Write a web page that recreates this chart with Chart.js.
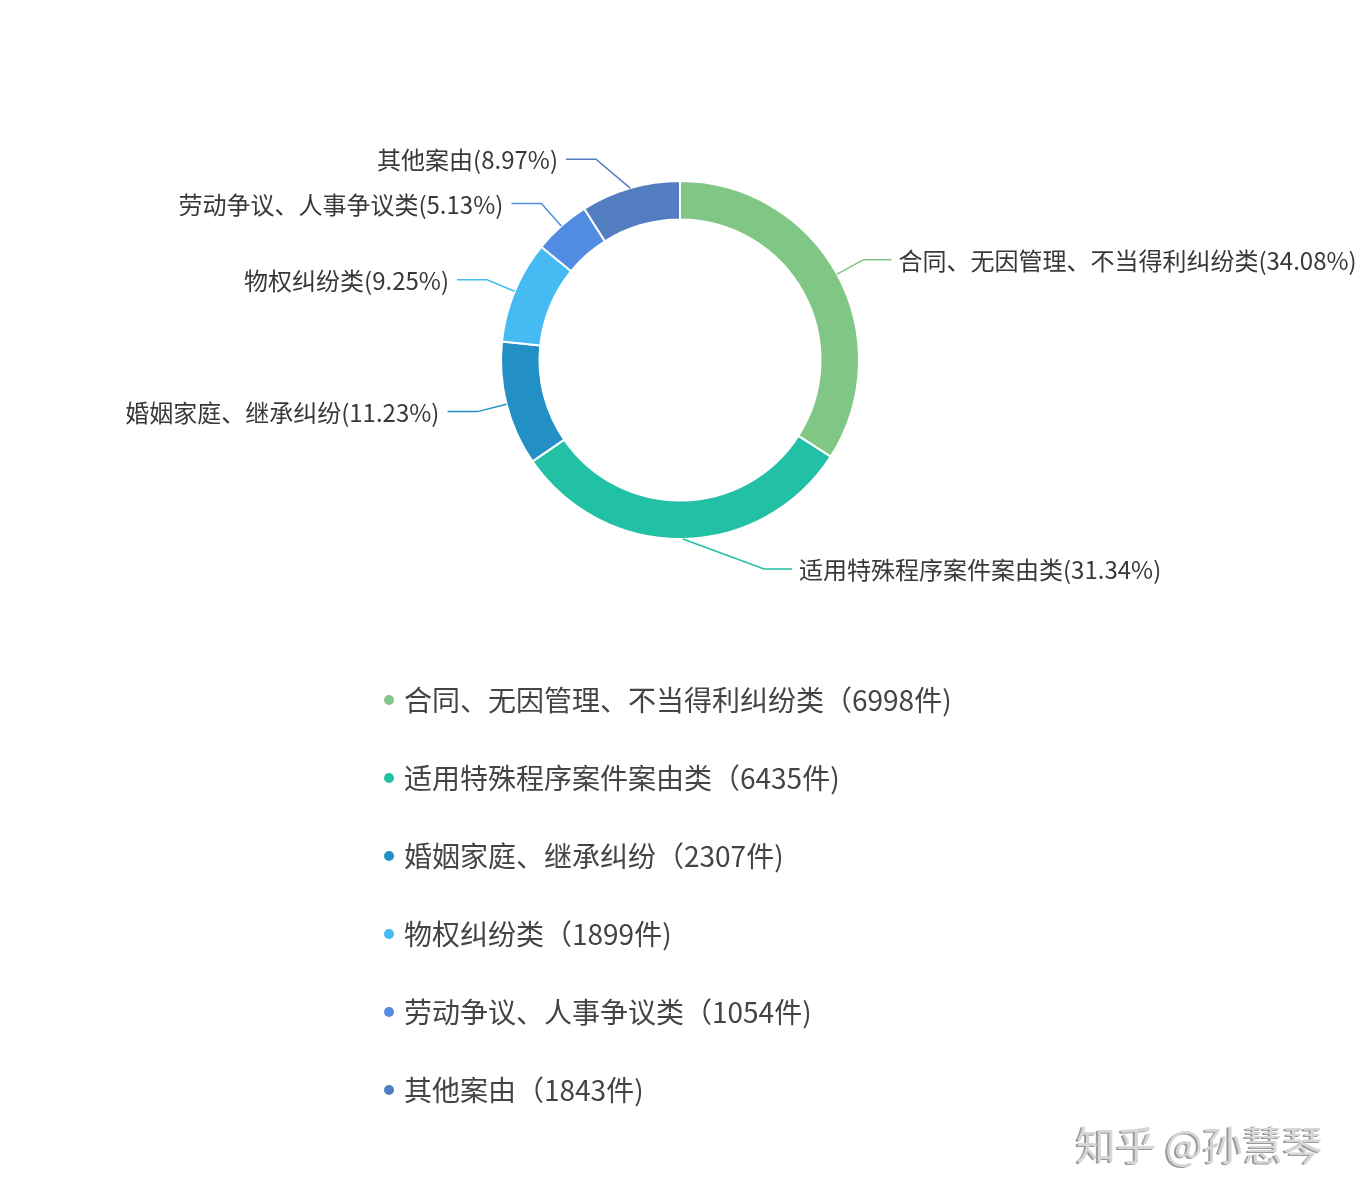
<!DOCTYPE html>
<html>
<head>
<meta charset="utf-8">
<script src="https://cdn.jsdelivr.net/npm/chart.js@4/dist/chart.umd.min.js"></script>
<style>
  html, body { margin: 0; padding: 0; background: #fff; }
  #wrap { width: 1360px; height: 1200px; position: relative; }
</style>
</head>
<body>
<div id="wrap"><canvas id="chart"></canvas></div>
<script>
const categories = [
  "合同、无因管理、不当得利纠纷类",
  "适用特殊程序案件案由类",
  "婚姻家庭、继承纠纷",
  "物权纠纷类",
  "劳动争议、人事争议类",
  "其他案由"
];
const caseCounts = [6998, 6435, 2307, 1899, 1054, 1843];
const sliceColors = ["#80c684", "#22c1a6", "#2390c5", "#45baf3", "#528be2", "#527dc1"];

const total = caseCounts.reduce((a, b) => a + b, 0);
const FONT = '"Noto Sans CJK SC", "Noto Sans", sans-serif';

// leader lines + percentage labels beside the ring
const sliceLabels = {
  id: "sliceLabels",
  afterDatasetsDraw(chart) {
    const ctx = chart.ctx;
    const meta = chart.getDatasetMeta(0);
    ctx.save();
    ctx.font = "24px " + FONT;
    ctx.textBaseline = "middle";
    meta.data.forEach((arc, i) => {
      const mid = (arc.startAngle + arc.endAngle) / 2;
      const r = arc.outerRadius;
      const cos = Math.cos(mid), sin = Math.sin(mid);
      const p0 = { x: arc.x + cos * r, y: arc.y + sin * r };
      const p1 = { x: arc.x + cos * (r + 30), y: arc.y + sin * (r + 30) };
      const right = cos >= 0;
      const minDx = 84;
      if (Math.abs(p1.x - arc.x) < minDx) {
        p1.x = arc.x + (right ? minDx : -minDx);
      }
      const p2 = { x: p1.x + (right ? 28 : -30), y: p1.y };
      ctx.strokeStyle = sliceColors[i];
      ctx.lineWidth = 1.5;
      ctx.beginPath();
      ctx.moveTo(p0.x, p0.y);
      ctx.lineTo(p1.x, p1.y);
      ctx.lineTo(p2.x, p2.y);
      ctx.stroke();

      const pct = (caseCounts[i] / total * 100).toFixed(2);
      ctx.fillStyle = "#383838";
      ctx.textAlign = right ? "left" : "right";
      ctx.fillText(categories[i] + "(" + pct + "%)", p2.x + (right ? 7 : -8), p2.y + 1);
    });
    ctx.restore();
  }
};

// vertical legend list and watermark
const listLegend = {
  id: "listLegend",
  afterDraw(chart) {
    const ctx = chart.ctx;
    ctx.save();
    ctx.font = "28px " + FONT;
    ctx.textBaseline = "middle";
    ctx.textAlign = "left";
    categories.forEach((name, i) => {
      const y = 700 + i * 78;
      ctx.fillStyle = sliceColors[i];
      ctx.beginPath();
      ctx.arc(389, y, 5, 0, Math.PI * 2);
      ctx.fill();
      ctx.fillStyle = "#444";
      ctx.fillText(name + "（" + caseCounts[i] + "件)", 404, y);
    });

    ctx.font = "40px " + FONT;
    ctx.textBaseline = "alphabetic";
    ctx.fillStyle = "#9a9a9a";
    ctx.fillText("知乎 @孙慧琴", 1074, 1161);
    ctx.fillStyle = "#d6d6d6";
    ctx.fillText("知乎 @孙慧琴", 1076, 1160);
    ctx.restore();
  }
};

new Chart(document.getElementById("chart"), {
  type: "doughnut",
  data: {
    labels: categories,
    datasets: [{
      data: caseCounts,
      backgroundColor: sliceColors,
      borderColor: "#ffffff",
      borderWidth: 2,
      hoverOffset: 0
    }]
  },
  options: {
    responsive: true,
    maintainAspectRatio: false,
    animation: false,
    events: [],
    cutout: "78.5%",
    layout: { padding: { top: 180, bottom: 660, left: 500, right: 500 } },
    plugins: {
      legend: { display: false },
      tooltip: { enabled: false }
    }
  },
  plugins: [sliceLabels, listLegend]
});
</script>
</body>
</html>
